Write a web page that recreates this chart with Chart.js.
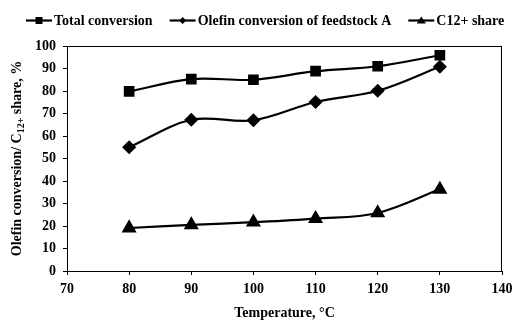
<!DOCTYPE html>
<html>
<head>
<meta charset="utf-8">
<script src="https://cdn.jsdelivr.net/npm/chart.js@4"></script>
<style>
  html, body { margin: 0; padding: 0; background: #fff; }
  #wrap { width: 513px; height: 322px; }
</style>
</head>
<body>
<div id="wrap"><canvas id="convChart" width="513" height="322"></canvas></div>
<script>
// Data
const temperatures = [80, 90, 100, 110, 120, 130];
const totalConversion = [79.8, 85.3, 85.0, 88.8, 91.0, 95.9];
const olefinConversion = [55.0, 67.2, 67.0, 75.1, 80.1, 90.8];
const c12Share = [19.1, 20.5, 21.7, 23.3, 25.8, 36.3];
const xTicks = [70, 80, 90, 100, 110, 120, 130, 140];
const yTicks = [0, 10, 20, 30, 40, 50, 60, 70, 80, 90, 100];

const fontFamily = '"Liberation Serif", "Times New Roman", serif';
const boldFont = size => 'bold ' + size + 'px ' + fontFamily;

// Small marker used in the legend swatches
function drawMarker(g, style, x, y) {
    g.beginPath();
    if (style === 'rect') {
        g.rect(x - 3.5, y - 3.5, 7, 7);
    } else if (style === 'rectRot') {
        g.moveTo(x, y - 3.5); g.lineTo(x + 3.5, y); g.lineTo(x, y + 3.5); g.lineTo(x - 3.5, y);
    } else {
        g.moveTo(x, y - 4); g.lineTo(x + 4.5, y + 3); g.lineTo(x - 4.5, y + 3);
    }
    g.closePath();
    g.fill();
}

// Legend row (line + marker + label) and frame / y title
const decorPlugin = {
    id: 'decor',
    afterDraw(chart) {
        const { ctx, chartArea } = chart;
        ctx.save();
        ctx.strokeStyle = '#000';
        ctx.fillStyle = '#000';

        // box around the plot
        ctx.lineWidth = 1;
        ctx.strokeRect(chartArea.left + 0.5, chartArea.top + 0.5,
            chartArea.right - chartArea.left - 1, chartArea.bottom - chartArea.top);

        // legend
        const legendY = 20.5;
        const gap = 17;
        const lineLen = 26;
        ctx.font = boldFont(14);
        ctx.textBaseline = 'middle';
        let x = 26;
        chart.data.datasets.forEach(ds => {
            const w = ctx.measureText(ds.label).width;
            ctx.lineWidth = 2.2;
            ctx.beginPath();
            ctx.moveTo(x, legendY);
            ctx.lineTo(x + lineLen, legendY);
            ctx.stroke();
            drawMarker(ctx, ds.pointStyle, x + lineLen / 2, legendY);
            ctx.fillText(ds.label, x + lineLen + 2, legendY + 0.5);
            x += lineLen + 2 + w + gap;
        });

        // y axis title with subscript
        const parts = [
            { t: 'Olefin conversion/ C', size: 14, dy: 0 },
            { t: '12+', size: 10, dy: 3 },
            { t: ' share, %', size: 14, dy: 0 }
        ];
        let tw = 0;
        parts.forEach(p => {
            ctx.font = boldFont(p.size);
            p.w = ctx.measureText(p.t).width;
            tw += p.w;
        });
        const cy = (chartArea.top + chartArea.bottom) / 2;
        ctx.translate(21, cy);
        ctx.rotate(-Math.PI / 2);
        ctx.textBaseline = 'alphabetic';
        let px = -tw / 2;
        parts.forEach(p => {
            ctx.font = boldFont(p.size);
            ctx.fillText(p.t, px, p.dy);
            px += p.w;
        });
        ctx.restore();
    }
};

const ctx = document.getElementById('convChart').getContext('2d');
const lineStyle = {
    borderColor: '#000',
    backgroundColor: '#000',
    borderWidth: 2.2,
    tension: 0.35
};
const tickFont = { family: fontFamily, size: 14, weight: 'bold' };

const convChart = new Chart(ctx, {
    type: 'line',
    data: {
        datasets: [{
            label: 'Total conversion',
            data: temperatures.map((t, i) => ({ x: t, y: totalConversion[i] })),
            pointStyle: 'rect',
            pointRadius: 6,
            ...lineStyle
        }, {
            label: 'Olefin conversion of feedstock A',
            data: temperatures.map((t, i) => ({ x: t, y: olefinConversion[i] })),
            pointStyle: 'rectRot',
            pointRadius: 5.5,
            ...lineStyle
        }, {
            label: 'C12+ share',
            data: temperatures.map((t, i) => ({ x: t, y: c12Share[i] })),
            pointStyle: 'triangle',
            pointRadius: 6.5,
            ...lineStyle
        }]
    },
    options: {
        responsive: false,
        animation: false,
        layout: { padding: { left: 0, right: 11, top: 46, bottom: 0 } },
        plugins: {
            tooltip: { enabled: false },
            legend: { display: false }
        },
        scales: {
            x: {
                type: 'linear',
                min: 70,
                max: 140,
                afterBuildTicks(axis) { axis.ticks = xTicks.map(v => ({ value: v })); },
                grid: { drawOnChartArea: false, drawTicks: true, tickLength: 4, color: '#000' },
                border: { color: '#000', width: 1 },
                ticks: { color: '#000', font: tickFont, padding: 6, maxRotation: 0 },
                title: {
                    display: true,
                    text: 'Temperature, °C',
                    color: '#000',
                    font: tickFont,
                    padding: { top: 4, bottom: 0 }
                },
                afterFit(axis) {
                    axis.height = 51;
                    axis.paddingLeft = 0;
                    axis.paddingRight = 0;
                }
            },
            y: {
                min: 0,
                max: 100,
                afterBuildTicks(axis) { axis.ticks = yTicks.map(v => ({ value: v })); },
                grid: { drawOnChartArea: false, drawTicks: true, tickLength: 4, color: '#000' },
                border: { color: '#000', width: 1 },
                ticks: { color: '#000', font: tickFont, padding: 7 },
                afterFit(axis) { axis.width = 67; }
            }
        }
    },
    plugins: [decorPlugin]
});
</script>
</body>
</html>
